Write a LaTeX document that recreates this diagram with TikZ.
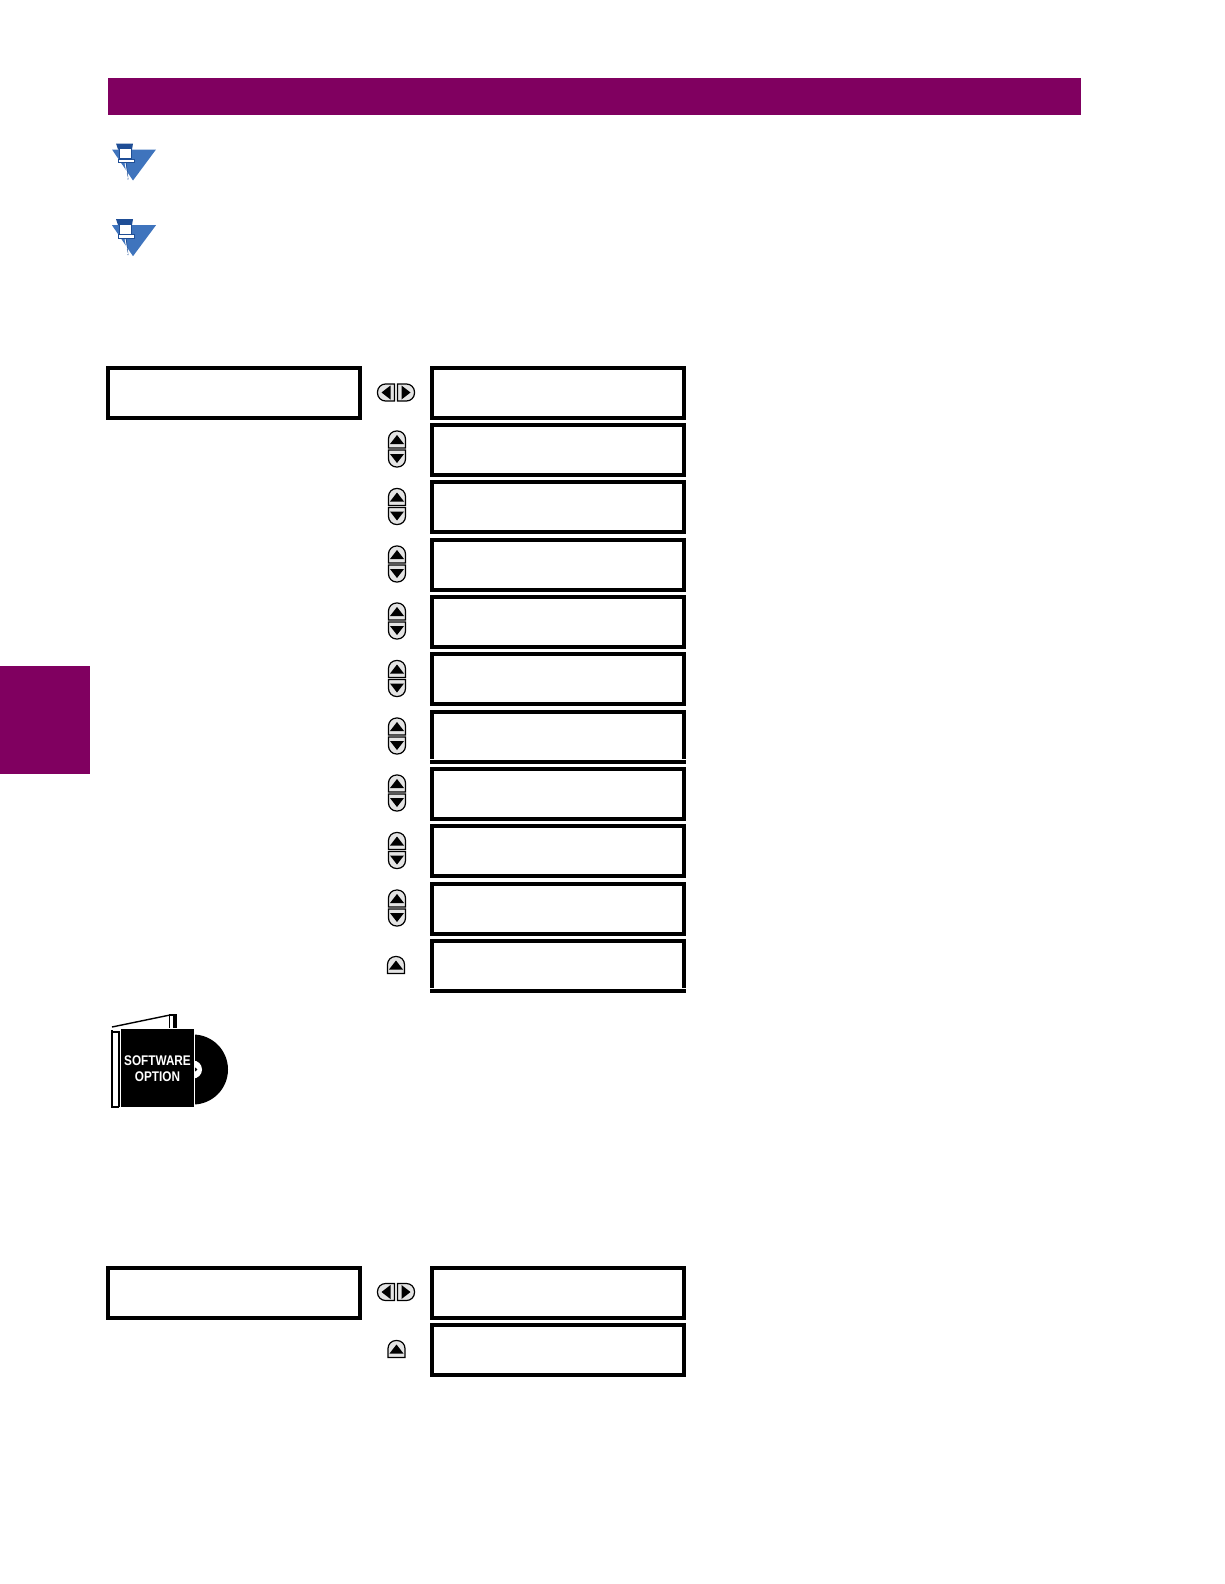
\documentclass[tikz,border=0pt]{standalone}
\usepackage{fontspec}
\setsansfont{Liberation Sans}
\usepackage{xcolor}
\usetikzlibrary{positioning, calc}
\definecolor{ge-maroon}{HTML}{800060}
\definecolor{note-blue}{HTML}{3F74BD}
\definecolor{note-dark}{HTML}{1F4E96}
\definecolor{key-gray}{HTML}{E4E4E4}

\begin{document}
\begin{tikzpicture}[
    x=1pt, y=-1pt,
    band/.style={fill=ge-maroon, draw=none},
    msgbox/.style={draw, line width=4pt, minimum width=252pt, minimum height=50pt, outer sep=0pt, inner sep=0pt},
    notch/.style={white, line width=1.2pt},
    keyface/.style={draw=black, fill=key-gray, line width=1.2pt},
    keyup/.pic={
        \draw[keyface] (-8.5,8.5) {[rounded corners=8pt] -- (-8.5,-8.5) -- (8.5,-8.5)} -- (8.5,8.5) -- cycle;
        \fill[black] (-7,4.5) -- (7,4.5) -- (0,-4.5) -- cycle;
    },
    keyvert/.pic={
        \pic at (0,-9.5) {keyup};
        \pic[rotate=180] at (0,9.5) {keyup};
    },
    keyhoriz/.pic={
        \pic[rotate=90] at (-10,0) {keyup};
        \pic[rotate=-90] at (10,0) {keyup};
    },
    notepin/.pic={
        \fill[note-blue] (0,0) -- (44,0) -- (21,31) -- cycle;
        \draw[note-dark, line width=0.8pt] (14,12) -- (16,30);
        \draw[white, line width=0.8pt] (13,13) -- (15.5,29);
        \fill[note-dark] (4,-6) -- (21,-6) -- (20,0) -- (6,0) -- cycle;
        \draw[note-dark, fill=white, line width=1.4pt] (7.5,-1) rectangle (19.5,9);
        \draw[note-dark, line width=0.6pt, fill=white] (6,9.5) rectangle (22,13);
    },
]
    \useasboundingbox (0,0) rectangle (1224,1584);

    % Bands
    \fill[band] (108,78) rectangle (1081,115);
    \fill[band] (0,666) rectangle (90,774);

    % Notes
    \pic at (112,149.5) {notepin};
    \pic at (112,225.2) {notepin};

    % Upper menu
    \node[msgbox] (headA) at (233.8,393) {};
    \node[msgbox] (msg1)  at (558,393)   {};
    \node[msgbox] (msg2)  at (558,450)   {};
    \node[msgbox] (msg3)  at (558,507)   {};
    \node[msgbox] (msg4)  at (558,565)   {};
    \node[msgbox] (msg5)  at (558,622)   {};
    \node[msgbox] (msg6)  at (558,679)   {};
    \node[msgbox] (msg7)  at (558,737)   {};
    \node[msgbox] (msg8)  at (558,794)   {};
    \node[msgbox] (msg9)  at (558,851)   {};
    \node[msgbox] (msg10) at (558,908.5) {};
    \node[msgbox] (msg11) at (558,966.3) {};

    % Breaks in the box sides
    \draw[notch] ([shift={(-2.5,-2.5)}]msg7.south west) -- ++(5,0);
    \draw[notch] ([shift={(-2.5,-2.5)}]msg7.south east) -- ++(5,0);
    \draw[notch] ([shift={(-2.5,-2.5)}]msg11.south west) -- ++(5,0);
    \draw[notch] ([shift={(-2.5,-2.5)}]msg11.south east) -- ++(5,0);

    % Keys
    \pic at (396,392.5) {keyhoriz};
    \pic at (397,449)   {keyvert};
    \pic at (397,506.5) {keyvert};
    \pic at (397,564)   {keyvert};
    \pic at (397,621)   {keyvert};
    \pic at (397,678.5) {keyvert};
    \pic at (397,736)   {keyvert};
    \pic at (397,793)   {keyvert};
    \pic at (397,850.5) {keyvert};
    \pic at (397,908)   {keyvert};
    \pic at (396,965) {keyup};

    % Software option
    \fill[black] (193,1069.5) circle (35);
    \fill[white] (193,1069.5) circle (9);
    \fill[black] (195.5,1069.5) circle (1.8);
    \draw[black, line width=1.4pt] (112,1027) -- (170,1015);
    \draw[black, line width=1.4pt, fill=white] (169.5,1015) rectangle (176.5,1029);
    \fill[black] (172.5,1015) rectangle (177,1029);
    \draw[black, line width=2pt] (112,1030) -- (112,1108);
    \draw[black, line width=2pt] (112,1031.5) -- (119,1031.5);
    \draw[black, line width=2pt] (119,1031) -- (119,1107);
    \draw[black, line width=2pt] (112,1106.5) -- (119,1106.5);
    \node[fill=black, draw=white, line width=1pt, minimum width=74pt, minimum height=79pt, inner sep=0pt, outer sep=0pt] (cover) at (157.5,1068) {};
    \node[text=white, font=\sffamily\bfseries\fontsize{14}{16.5}\selectfont, align=center, xscale=.84, transform shape, inner sep=0pt]
        (swopt) at (157.5,1068.5) {SOFTWARE\\OPTION};

    % Lower menu
    \node[msgbox] (headB) at (233.8,1293) {};
    \node[msgbox] (msgB1) at (558,1293)   {};
    \node[msgbox] (msgB2) at (558,1350)   {};

    \pic at (396,1292) {keyhoriz};
    \pic at (396.5,1349) {keyup};
\end{tikzpicture}
\end{document}
